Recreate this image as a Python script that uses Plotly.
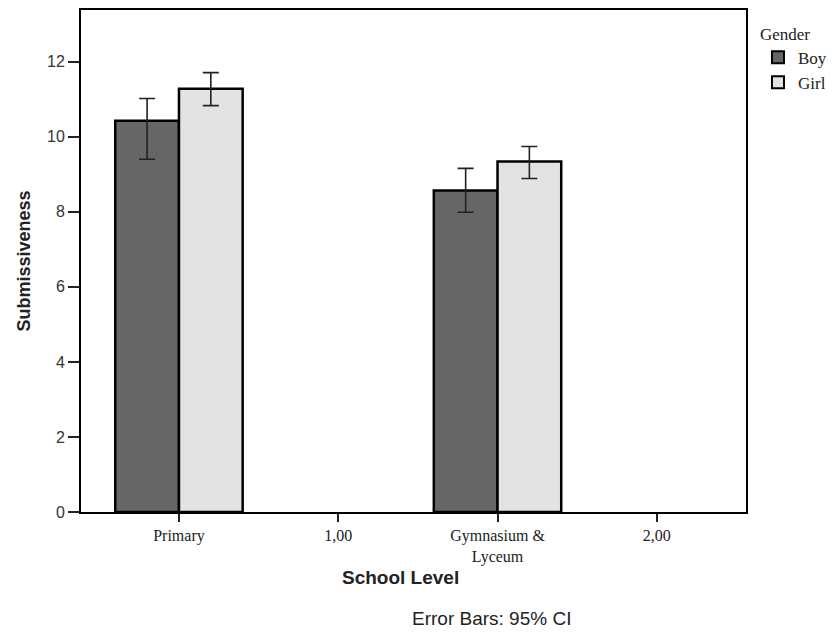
import plotly.graph_objects as go

tick_labels = ["Primary", "1,00", "Gymnasium &<br>Lyceum", "2,00"]
tick_positions = [0, 1, 2, 3]
bar_x = [0, 2]

boy_mean = [10.43, 8.57]
boy_lo = [9.40, 7.99]
boy_hi = [11.02, 9.16]

girl_mean = [11.28, 9.34]
girl_lo = [10.83, 8.89]
girl_hi = [11.71, 9.74]

serif = "Liberation Serif, Times New Roman, serif"
sans = "Liberation Sans, Arial, sans-serif"

def err(mean, lo, hi):
    return dict(type="data", symmetric=False,
                array=[h - m for h, m in zip(hi, mean)],
                arrayminus=[m - l for m, l in zip(mean, lo)],
                color="#222222", thickness=1.6, width=8)

fig = go.Figure()
fig.add_trace(go.Bar(x=bar_x, y=boy_mean, name="Boy", width=0.4, offset=-0.4,
                     marker=dict(color="#666666", line=dict(color="black", width=2.5)),
                     error_y=err(boy_mean, boy_lo, boy_hi)))
fig.add_trace(go.Bar(x=bar_x, y=girl_mean, name="Girl", width=0.4, offset=0,
                     marker=dict(color="#e3e3e3", line=dict(color="black", width=2.5)),
                     error_y=err(girl_mean, girl_lo, girl_hi)))

fig.update_layout(
    width=826, height=625,
    margin=dict(l=73, r=88, t=0, b=121),
    paper_bgcolor="white", plot_bgcolor="white",
    showlegend=True,
    legend=dict(title=dict(text="Gender", font=dict(family=serif, size=17, color="#222")),
                font=dict(family=serif, size=17, color="#222"),
                x=1.018, y=0.985, xanchor="left", yanchor="top",
                tracegroupgap=0, itemsizing="constant"),
    xaxis=dict(range=[-0.615, 3.56], tickmode="array", tickvals=tick_positions,
               ticktext=tick_labels, ticks="outside", ticklen=8, tickwidth=1.5,
               tickcolor="#222", showline=True, linecolor="black", linewidth=2,
               mirror=True, showgrid=False, zeroline=False,
               tickfont=dict(family=serif, size=16, color="#222")),
    yaxis=dict(range=[0, 13.38], tickvals=[0, 2, 4, 6, 8, 10, 12],
               ticks="outside", ticklen=11, tickwidth=1.5, tickcolor="#222",
               showline=True, linecolor="black", linewidth=2, mirror=True,
               showgrid=False, zeroline=False,
               tickfont=dict(family=sans, size=16, color="#333"),
               title=dict(text="<b>Submissiveness</b>", font=dict(family=sans, size=18, color="#222"),
                          standoff=12)),
    annotations=[
        dict(text="<b>School Level</b>", xref="paper", yref="paper",
             x=0.48, y=-0.131, xanchor="center", yanchor="middle",
             showarrow=False, font=dict(family=sans, size=19, color="#222")),
        dict(text="Error Bars: 95% CI", xref="paper", yref="paper",
             x=0.617, y=-0.212, xanchor="center", yanchor="middle",
             showarrow=False, font=dict(family=sans, size=19, color="#222")),
    ],
)

fig.write_html("out.html")
